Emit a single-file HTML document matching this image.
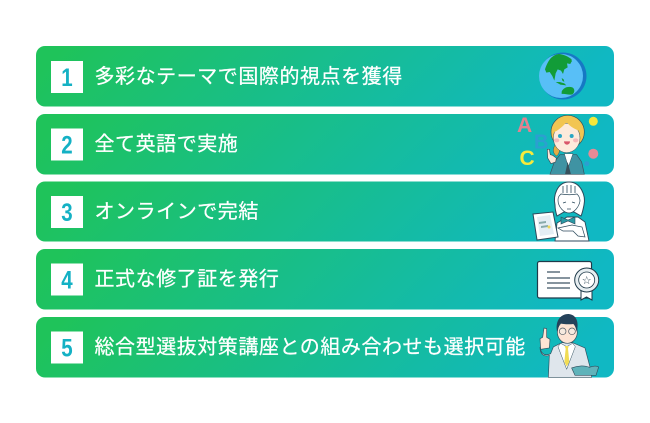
<!DOCTYPE html>
<html><head><meta charset="utf-8">
<style>
html,body{margin:0;padding:0;background:#fff;width:650px;height:423px;overflow:hidden}
svg{display:block}
.t{font-family:"Liberation Sans","Noto Sans CJK JP",sans-serif;font-size:20px;fill:#fff;stroke:#fff;stroke-width:.25px;letter-spacing:.55px}
.n{font-family:"Liberation Sans","Noto Sans CJK JP",sans-serif;font-size:25px;font-weight:700;fill:#14b1c4;text-anchor:middle}
.l{font-family:"Liberation Sans",sans-serif;font-weight:700}
</style></head><body>
<svg width="650" height="423" viewBox="0 0 650 423" xmlns="http://www.w3.org/2000/svg">
<defs>
<linearGradient id="g" gradientUnits="objectBoundingBox" x1="0" y1="0" x2="1" y2="0.104">
<stop offset="0.05" stop-color="#1fc35a"/><stop offset="1" stop-color="#10b8c3"/>
</linearGradient>
</defs>
<rect x="36" y="46" width="578" height="60.500" rx="9" fill="url(#g)"/>
<rect x="36" y="114" width="578" height="60.500" rx="9" fill="url(#g)"/>
<rect x="36" y="181.500" width="578" height="60" rx="9" fill="url(#g)"/>
<rect x="36" y="249" width="578" height="60.500" rx="9" fill="url(#g)"/>
<rect x="36" y="317" width="578" height="60.500" rx="9" fill="url(#g)"/>
<rect x="51" y="61" width="32" height="32" fill="#fff"/>
<rect x="51" y="128.500" width="32" height="32" fill="#fff"/>
<rect x="51" y="196" width="32" height="32" fill="#fff"/>
<rect x="51" y="263.500" width="32" height="32" fill="#fff"/>
<rect x="51" y="331.500" width="32" height="32" fill="#fff"/>
<text class="n" transform="translate(67,86) scale(.82,1)">1</text>
<text class="n" transform="translate(67,153.500) scale(.82,1)">2</text>
<text class="n" transform="translate(67,221) scale(.82,1)">3</text>
<text class="n" transform="translate(67,288.500) scale(.82,1)">4</text>
<text class="n" transform="translate(67,356.500) scale(.82,1)">5</text>
<text class="t" x="94.500" y="83">多彩なテーマで国際的視点を獲得</text>
<text class="t" x="94.500" y="150.500">全て英語で実施</text>
<text class="t" x="94.500" y="218">オンラインで完結</text>
<text class="t" x="94.500" y="285.500">正式な修了証を発行</text>
<text class="t" x="94.500" y="353.500">総合型選抜対策講座との組み合わせも選択可能</text>

<!-- globe -->
<circle cx="563" cy="76" r="23.500" fill="#1678c4"/>
<circle cx="561" cy="76" r="22" fill="#58bff7"/>
<g transform="translate(535,50) scale(.3333)" fill="#129c38">
<path d="M30 58 C38 35 48 15 72 12 C88 14 100 20 110 28 L106 42 L96 40 L98 52 L88 58 L84 72 L78 62 L68 58 L62 70 L58 92 L52 78 L44 66 L34 68Z"/>
<path d="M104 38l5-8 2 3-5 8zM62 96l14 8 18 2-6-6-14-4zM80 84l6 4 2 8-6-4z"/>
<path d="M80 125 C85 112 100 108 112 112 C120 116 120 128 112 133 C100 136 90 130 80 132 Z"/>
</g>

<!-- girl teacher -->
<text class="l" x="517" y="132" font-size="21" fill="#e5818f">A</text>
<text class="l" x="534" y="148.500" font-size="20" fill="#2c9fd0">B</text>
<text class="l" x="519.500" y="165" font-size="21" fill="#f8ea3c">C</text>
<circle cx="593.300" cy="121.300" r="4.500" fill="#f5e73b"/>
<circle cx="593.300" cy="153.700" r="5" fill="#e58a96"/>
<circle cx="586.700" cy="163.700" r="2.500" fill="#2c9fd0"/>
<g transform="translate(515,112) scale(.3333)">
<path d="M105 187 L118 150 L135 128 L185 128 L200 150 L208 187Z" fill="#3f93a3" stroke="#37505c" stroke-width="2"/>
<path d="M148 125 L160 165 L174 125Z" fill="#fff" stroke="#37505c" stroke-width="1.500"/>
<path d="M158 150l-8 37h18z" fill="#37505c"/>
<path d="M122 150 L108 155 L98 138 L97 112 L103 112 L106 128 L113 130 L124 138Z" fill="#fde7d9" stroke="#37505c" stroke-width="2"/>
<path d="M125 95 C112 105 112 125 125 132 C135 125 137 105 130 95Z" fill="#e2ad46" stroke="#37505c" stroke-width="1.500"/>
<circle cx="158" cy="60" r="50" fill="#f2c552" stroke="#37505c" stroke-width="2"/>
<ellipse cx="155" cy="78" rx="40" ry="44" fill="#fdeadb" stroke="#37505c" stroke-width="1.500"/>
<path d="M112 62 C125 60 145 42 155 30 C165 45 185 55 200 58 C200 35 180 12 155 12 C130 12 110 35 112 62Z" fill="#f2c552"/>
<circle cx="135" cy="72" r="6" fill="#2aa6c4"/><circle cx="170" cy="72" r="6" fill="#2aa6c4"/>
<ellipse cx="125" cy="85" rx="8" ry="6" fill="#f6b9bb"/><ellipse cx="182" cy="85" rx="8" ry="6" fill="#f6b9bb"/>
<path d="M147 88h18c0 13-18 13-18 0z" fill="#d9566a"/>
</g>

<!-- student with tablet -->
<path d="M555 241 L557 223 L567 217 L578 217 L585 222 L589 241Z" fill="#fff" stroke="#2c4a5c" stroke-width=".9"/>
<path d="M555 205c-2-9 2-23 14-23s17 14 15 23c-1 5-2 9-3 11l-7-4h-10l-7 4c-1-3-2-7-2-11z" fill="#fff" stroke="#2c4a5c" stroke-width="1"/>
<path d="M558 200c0-3 1-4 3-6 6 1 11 1 16 0 2 2 3 4 3 7-1 6-6 12-11 12s-11-6-11-13z" fill="#fff" stroke="#2c4a5c" stroke-width=".7"/>
<path d="M563 186v7M567 185v8M571 185v8M575 186v7M563 203l3-1M572 202l3 1M567 209h4" stroke="#2c4a5c" stroke-width=".8"/>
<path d="M561 217l7 3 7-3v7l-7-3-7 3z" fill="#2a9aa5" stroke="#2c4a5c" stroke-width=".6"/>
<path d="M533 214l20-2 5 25-21 3z" fill="#fff" stroke="#2c4a5c" stroke-width="1"/>
<path d="M537 217l13-2 4 19-14 2z" fill="#e4eef4"/>
<path d="M539 222l7-1v2l-7 1zM541 226l7-1v2l-7 1z" fill="#8aa"/>
<circle cx="549" cy="227" r="1.500" fill="#efd85a"/>
<path d="M558 228l14-3 10 2 3 10-7-1-5-5-10 0z" fill="#fff" stroke="#2c4a5c" stroke-width=".7"/>

<!-- certificate -->
<rect x="537.500" y="261.500" width="54" height="36.500" rx="2" fill="#fff" stroke="#1f3a4a" stroke-width="1.200"/>
<path d="M547 272h13M547 278h23M547 283h23M547 288h23" stroke="#3d5563" stroke-width="1.200"/>
<path d="M581 289v11l5.500-3 5.500 3v-11z" fill="#fff" stroke="#1f3a4a" stroke-width="1"/>
<circle cx="586.700" cy="280" r="12" fill="#e7eef1" stroke="#1f3a4a" stroke-width="1"/>
<circle cx="586.700" cy="280" r="8" fill="#fff" stroke="#1f3a4a" stroke-width=".8"/>
<text x="586.700" y="284" font-size="11" text-anchor="middle" fill="#1f3a4a" font-family="DejaVu Sans,sans-serif">☆</text>

<!-- teacher man -->
<g transform="translate(530,312) scale(.3333)">
<path d="M30 105 C32 120 40 135 62 125 L70 105 L95 92 L128 92 L165 108 L180 165 L185 196 L55 196 L58 130 C45 135 30 130 30 105Z" fill="#dfe6ec" stroke="#31505f" stroke-width="2"/>
<path d="M92 94 L110 104 L128 94 L136 104 L110 172 L84 104Z" fill="#fff" stroke="#31505f" stroke-width="1.500"/>
<path d="M104 102h12l-2 8 4 40-8 14-7-14 4-40z" fill="#f1dc54"/>
<path d="M32 112 L30 80 L38 76 L42 48 L50 50 L50 76 L60 82 L58 108Z" fill="#fde4d4" stroke="#31505f" stroke-width="2"/>
<ellipse cx="112" cy="60" rx="30" ry="34" fill="#fde4d4" stroke="#31505f" stroke-width="2"/>
<path d="M82 62 C74 30 90 5 116 6 C140 8 148 32 140 60 C138 50 136 42 130 36 C115 38 98 36 90 34 C86 42 84 52 82 62Z" fill="#25425a"/>
<circle cx="98" cy="58" r="10" fill="#f6eadf" stroke="#4a5560" stroke-width="2"/>
<circle cx="126" cy="58" r="10" fill="#f6eadf" stroke="#4a5560" stroke-width="2"/>
<path d="M125 168 C145 160 165 160 178 166 C188 162 198 160 206 165 L198 190 L135 190Z" fill="#5fb3ba" stroke="#31505f" stroke-width="2"/>
</g>
</svg>
</body></html>
